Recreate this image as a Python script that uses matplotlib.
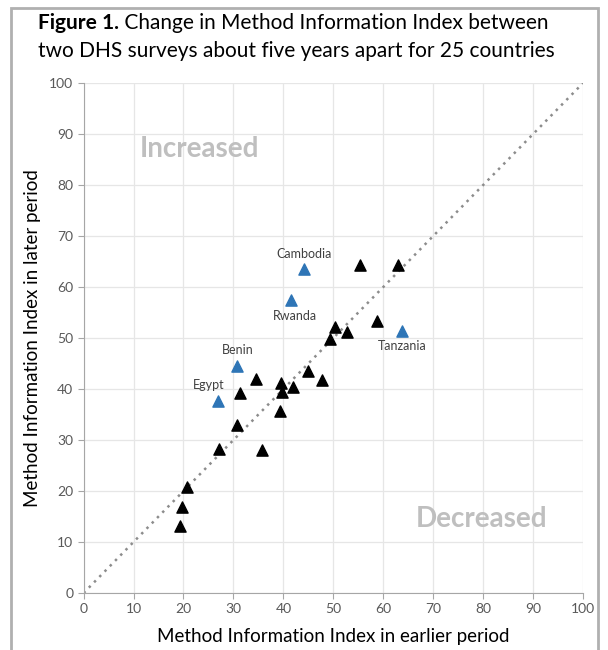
import matplotlib.pyplot as plt
from matplotlib.patches import Rectangle

plt.rcParams['font.family'] = ['Lato', 'DejaVu Sans']

# countries with no label (black)
earlier = [19.3, 19.8, 20.7, 27.1, 35.8, 30.7, 31.4, 34.5, 39.4, 39.8,
           39.6, 41.9, 45.0, 47.8, 49.4, 50.3, 52.8, 58.7, 55.3, 62.9]
later = [13.1, 16.9, 20.8, 28.2, 28.0, 32.9, 39.3, 42.0, 35.6, 39.5,
         41.2, 40.4, 43.6, 41.7, 49.9, 52.2, 51.2, 53.3, 64.3, 64.3]

# highlighted countries (blue)
named = ['Cambodia', 'Rwanda', 'Tanzania', 'Benin', 'Egypt']
named_earlier = [44.1, 41.5, 63.7, 30.8, 26.9]
named_later = [63.5, 57.5, 51.4, 44.6, 37.7]
label_offsets = {'Cambodia': (0, 11), 'Rwanda': (3, -12), 'Tanzania': (0, -11),
                 'Benin': (0, 11), 'Egypt': (-7, 11)}

ticks = list(range(0, 101, 10))

fig = plt.figure(figsize=(6.08, 6.5), dpi=100)
ax = fig.add_axes([0.1375, 0.0877, 0.8215, 0.7846])

ax.plot([0, 100], [0, 100], linestyle=(0, (1, 2)), color='#8c8c8c', lw=1.8, zorder=1)
ax.scatter(earlier, later, marker='^', s=65, color='black', zorder=3)
ax.scatter(named_earlier, named_later, marker='^', s=65, color='#2e75b6', zorder=3)
for n, x, y in zip(named, named_earlier, named_later):
    dx, dy = label_offsets[n]
    ax.annotate(n, (x, y), xytext=(dx, dy), textcoords='offset points',
                ha='center', va='center', fontsize=9, color='#404040')

ax.text(23.2, 87.1, 'Increased', ha='center', va='center', fontsize=20,
        fontweight='bold', color='#bfbfbf')
ax.text(79.6, 14.5, 'Decreased', ha='center', va='center', fontsize=20,
        fontweight='bold', color='#bfbfbf')

ax.set_xlim(0, 100)
ax.set_ylim(0, 100)
ax.set_xticks(ticks)
ax.set_yticks(ticks)
ax.grid(color='#e6e6e6', lw=0.9)
ax.set_axisbelow(True)
for s in ['top', 'right']:
    ax.spines[s].set_visible(False)
for s in ['left', 'bottom']:
    ax.spines[s].set_color('#a6a6a6')
ax.tick_params(colors='#a6a6a6', labelcolor='#595959', labelsize=10, length=4)
ax.set_xlabel('Method Information Index in earlier period', fontsize=13.5, labelpad=9)
ax.set_ylabel('Method Information Index in later period', fontsize=13.5, labelpad=6)

t1 = fig.text(0.062, 0.964, 'Figure 1.', fontsize=15, fontweight='bold', va='center')
fig.add_artist(plt.Annotation(' Change in Method Information Index between', xy=(1, 0),
                              xycoords=t1, va='bottom', fontsize=15))
fig.text(0.062, 0.921, 'two DHS surveys about five years apart for 25 countries',
         fontsize=15, va='center')

fig.patches.append(Rectangle((0.018, -0.05), 0.966, 1.038, transform=fig.transFigure,
                             fill=False, edgecolor='#b0b0b0', lw=2))

fig.savefig('out.png', dpi=100)
